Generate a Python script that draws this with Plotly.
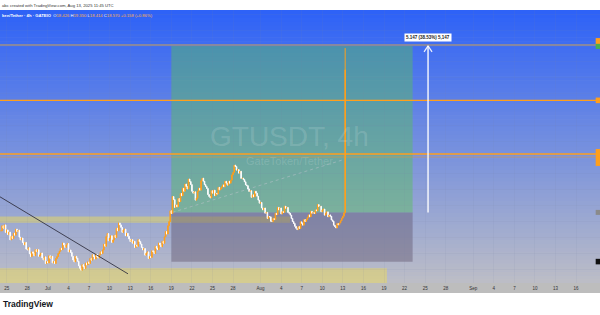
import plotly.graph_objects as go
import pandas as pd

# ---------------- data ----------------
closes = [
    12.78, 12.96, 12.87, 12.99, 12.72, 12.81, 12.64, 12.73, 12.45, 12.58, 12.50, 12.69,
    12.62, 12.84, 12.75, 12.80, 12.55, 12.45, 12.52, 12.36, 12.27, 12.36, 12.12, 12.09,
    12.17, 11.95, 11.85, 12.02, 11.97,
    11.88, 12.10, 12.03, 12.10, 11.86, 11.91, 11.98, 11.80, 11.73, 11.84, 11.60, 11.67,
    11.62, 11.88, 11.79, 11.86, 11.62, 11.67, 11.60, 11.78, 11.85, 11.96, 12.04, 12.15,
    12.10, 12.34, 12.27, 12.18, 12.27,
    12.32, 12.02, 12.09, 12.00, 11.86, 11.73, 11.66, 11.86, 11.79, 11.68, 11.52, 11.43,
    11.36, 11.56, 11.49, 11.42, 11.62, 11.55, 11.66, 11.60, 11.79, 11.72, 11.92, 11.85,
    11.76, 11.94, 11.85, 11.80, 11.91,
    12.02, 11.96, 12.09, 12.30, 12.22, 12.57, 12.68, 12.42, 12.51, 12.60, 12.36, 12.45,
    12.62, 12.54, 12.87, 12.78, 13.06, 12.99, 12.90, 12.72, 12.81, 12.84, 12.60, 12.69,
    12.58, 12.48, 12.39, 12.46, 12.33,
    12.40, 12.18, 12.27, 12.22, 12.46, 12.39, 12.30, 12.18, 12.09, 12.14, 11.90, 11.97,
    12.02, 11.78, 11.85, 11.82, 12.06, 12.03, 11.96, 12.22, 12.15, 12.10, 12.34, 12.27,
    12.20, 12.40, 12.33, 12.56, 12.75,
    12.66, 12.96, 13.11, 13.50, 13.40, 14.01, 13.90, 13.62, 13.71, 13.64, 13.94, 13.83,
    14.12, 14.04, 14.31, 14.20, 14.46, 14.37, 14.28, 14.64, 14.55, 14.44, 14.20, 14.13,
    14.18, 13.88, 13.95, 14.20, 14.31,
    14.24, 14.58, 14.67, 14.56, 14.44, 14.37, 14.30, 14.08, 14.01, 13.96, 14.22, 14.13,
    14.24, 14.04, 14.13, 14.10, 14.34, 14.25, 14.30, 14.36, 14.43, 14.36, 14.56, 14.49,
    14.42, 14.56, 14.49, 14.60, 14.79,
    14.88, 15.14, 15.09, 14.96, 14.98, 14.85, 14.92, 14.66, 14.67, 14.62, 14.54, 14.43,
    14.40, 14.28, 14.19, 14.22, 13.98, 14.07, 14.00, 14.20, 14.13, 14.02, 13.88, 13.77,
    13.80, 13.60, 13.53, 13.60, 13.41,
    13.44, 13.22, 13.29, 13.28, 13.12, 13.11, 13.22, 13.18, 13.41, 13.36, 13.62, 13.53,
    13.60, 13.38, 13.47, 13.44, 13.66, 13.59, 13.62, 13.44, 13.41, 13.34, 13.22, 13.11,
    13.04, 12.94, 12.87, 12.82, 12.93,
    12.86, 13.10, 13.05, 12.98, 13.18, 13.11, 13.18, 13.26, 13.35, 13.28, 13.48, 13.41,
    13.44, 13.40, 13.53, 13.50, 13.72, 13.65, 13.66, 13.46, 13.53, 13.56, 13.34, 13.41,
    13.46, 13.28, 13.35, 13.30, 13.17,
    13.12, 12.98, 12.93, 12.88, 13.04, 12.99, 13.06, 13.14, 13.23, 13.30, 13.426,
    18.570,
]
last_high = 19.35
last_low = 13.414
last_candle_time = "2025-08-13 08:00"

tick_dates = ["2025-06-25", "2025-06-28", "2025-07-01", "2025-07-04", "2025-07-07", "2025-07-10",
              "2025-07-13", "2025-07-16", "2025-07-19", "2025-07-22", "2025-07-25", "2025-07-28",
              "2025-08-01", "2025-08-04", "2025-08-07", "2025-08-10", "2025-08-13", "2025-08-16",
              "2025-08-19", "2025-08-22", "2025-08-25", "2025-08-28", "2025-09-01", "2025-09-04",
              "2025-09-07", "2025-09-10", "2025-09-13", "2025-09-16"]
tick_labels = ["25", "28", "Jul", "4", "7", "10", "13", "16", "19", "22", "25", "28",
               "Aug", "4", "7", "10", "13", "16", "19", "22", "25", "28",
               "Sep", "4", "7", "10", "13", "16"]

x_range = ["2025-06-24 00:29", "2025-09-19 11:33"]
y_range = [10.90, 20.72]

# long position tool
position_start = "2025-07-19 00:00"
position_end = "2025-08-23 04:00"
entry_price = 13.44
target_price = 19.43
stop_price = 11.66
arrow_time = "2025-08-25 10:00"
position_label = "5.147 (38.53%) 5,147"

# drawings
gray_level = 19.46
orange_levels = [17.47, 15.54]
faint_level = 15.43
zone_upper = ("2025-06-20", "2025-08-05 07:00", 13.07, 13.29)
zone_lower = ("2025-06-20", "2025-08-19 10:00", 10.70, 11.43)
trend_line = (("2025-06-24 00:29", 14.00), ("2025-07-12 16:20", 11.23))
connector = (("2025-07-19 04:00", 13.44), ("2025-08-13 00:00", 15.33))

# ---------------- build ----------------
opens = [closes[0]] + closes[:-1]
highs = [max(o, c) for o, c in zip(opens, closes)]
lows = [min(o, c) for o, c in zip(opens, closes)]
highs[-1] = last_high
lows[-1] = last_low
times = pd.date_range(end=last_candle_time, periods=len(closes), freq="4h")

ORANGE = "#FF9F1C"
fig = go.Figure()
fig.add_trace(go.Candlestick(
    x=times, open=opens, high=highs, low=lows, close=closes,
    increasing=dict(line=dict(color=ORANGE, width=1), fillcolor=ORANGE),
    decreasing=dict(line=dict(color="#FFFFFF", width=1), fillcolor="#FFFFFF"),
    whiskerwidth=0, showlegend=False, hoverinfo="skip",
))

shapes = []
# background gradient
top = (46, 98, 247)
bot = (188, 189, 198)
n = 70
for i in range(n):
    t = i / (n - 1)
    col = tuple(round(a + (b - a) * t) for a, b in zip(top, bot))
    shapes.append(dict(type="rect", xref="paper", yref="paper", x0=0, x1=1,
                       y0=1 - (i + 1) / n - 0.002, y1=1 - i / n,
                       fillcolor="rgb(%d,%d,%d)" % col, line_width=0, layer="below"))

# yellow zones
for z in (zone_upper, zone_lower):
    shapes.append(dict(type="rect", xref="x", yref="y", x0=z[0], x1=z[1], y0=z[2], y1=z[3],
                       fillcolor="rgba(242,222,80,0.45)", line_width=0, layer="below"))
# position boxes
shapes.append(dict(type="rect", xref="x", yref="y", x0=position_start, x1=position_end,
                   y0=entry_price, y1=target_price, fillcolor="rgba(88,190,92,0.45)",
                   line_width=0, layer="below"))
shapes.append(dict(type="rect", xref="x", yref="y", x0=position_start, x1=position_end,
                   y0=stop_price, y1=entry_price, fillcolor="rgba(92,80,105,0.42)",
                   line_width=0, layer="below"))
# connector dotted
shapes.append(dict(type="line", xref="x", yref="y", x0=connector[0][0], y0=connector[0][1],
                   x1=connector[1][0], y1=connector[1][1],
                   line=dict(color="rgba(200,200,210,0.45)", width=1, dash="dot"), layer="below"))
# trend line
shapes.append(dict(type="line", xref="x", yref="y", x0=trend_line[0][0], y0=trend_line[0][1],
                   x1=trend_line[1][0], y1=trend_line[1][1],
                   line=dict(color="rgba(45,45,60,0.85)", width=1)))
# horizontal levels
shapes.append(dict(type="line", xref="paper", yref="y", x0=0, x1=1, y0=gray_level, y1=gray_level,
                   line=dict(color="rgba(135,135,160,1)", width=2)))
for lv in orange_levels:
    shapes.append(dict(type="line", xref="paper", yref="y", x0=0, x1=1, y0=lv, y1=lv,
                       line=dict(color=ORANGE, width=1.3)))
shapes.append(dict(type="line", xref="paper", yref="y", x0=0, x1=1, y0=faint_level, y1=faint_level,
                   line=dict(color="rgba(255,159,28,0.45)", width=1)))
# arrow
shapes.append(dict(type="line", xref="x", yref="y", x0=arrow_time, x1=arrow_time,
                   y0=entry_price, y1=target_price, line=dict(color="rgba(255,255,255,0.9)", width=1.5)))
for dx in (-4, 4):
    shapes.append(dict(type="line", xref="x", yref="y", xsizemode="pixel", ysizemode="pixel",
                       xanchor=arrow_time, yanchor=target_price,
                       x0=dx, y0=-6, x1=0, y1=0,
                       line=dict(color="rgba(255,255,255,0.9)", width=1.2)))
# right price-scale labels (cut off by the window)
for lo, hi, c in [(19.50, 19.71, ORANGE), (19.32, 19.50, "#4CAF50"), (17.37, 17.57, ORANGE),
                  (15.11, 15.72, ORANGE), (13.35, 13.53, "#8a8a8a"), (11.57, 11.77, "#111111")]:
    shapes.append(dict(type="rect", xref="paper", yref="y", x0=0.9928, x1=1.0, y0=lo, y1=hi,
                       fillcolor=c, line_width=0))
# time axis strip (drawn below so the tick labels stay visible)
shapes.append(dict(type="rect", xref="paper", yref="paper", x0=0, x1=1, y0=-10 / 273, y1=0,
                   fillcolor="#bdbdbd", line_width=0, layer="below"))

annotations = [
    dict(text="GTUSDT, 4h", xref="paper", yref="paper", x=0.483, y=0.535, showarrow=False,
         font=dict(family="Liberation Sans", size=28, color="rgba(255,255,255,0.15)")),
    dict(text="GateToken/Tether", xref="paper", yref="paper", x=0.483, y=0.447, showarrow=False,
         font=dict(family="Liberation Sans", size=11, color="rgba(255,255,255,0.15)")),
    dict(text="<b>" + position_label + "</b>", xref="x", yref="y", x=arrow_time, y=target_price,
         yshift=8, showarrow=False, bgcolor="white", borderpad=1,
         font=dict(family="Liberation Sans", size=4.5, color="#222")),
    dict(text="abc created with TradingView.com, Aug 13, 2025 11:45 UTC", xref="paper", yref="paper",
         x=0, y=(283 - 5) / 273, xanchor="left", yanchor="middle", showarrow=False,
         font=dict(family="Liberation Sans", size=4.2, color="#333")),
    dict(text=("<b>ken/Tether · 4h · GATEIO</b>  O<span style='color:#FFB347'>18.426</span>"
               " H<span style='color:#FFB347'>19.350</span> L<span style='color:#FFB347'>18.414</span>"
               " C<span style='color:#FFB347'>18.570</span> <span style='color:#FFB347'>+0.158 (+0.86%)</span>"),
         xref="paper", yref="paper", x=0, y=(283 - 15) / 273, xanchor="left", yanchor="middle",
         showarrow=False, font=dict(family="Liberation Sans", size=4.2, color="white")),
    dict(text="<b>TradingView</b>", xref="paper", yref="paper", x=0.002, y=(283 - 304) / 273,
         xanchor="left", yanchor="middle", showarrow=False,
         font=dict(family="Liberation Sans", size=8.5, color="#131722")),
]

fig.update_layout(
    width=600, height=315,
    margin=dict(l=0, r=0, t=10, b=32),
    paper_bgcolor="white", plot_bgcolor="#8fa3e0",
    shapes=shapes, annotations=annotations, showlegend=False,
    xaxis=dict(type="date", range=x_range, rangeslider=dict(visible=False),
               tickvals=tick_dates, ticktext=tick_labels, ticks="",
               tickfont=dict(family="Liberation Sans", size=4.5, color="#333"),
               ticklabelstandoff=1,
               showgrid=True, gridcolor="rgba(120,130,170,0.09)", gridwidth=1,
               zeroline=False, showline=False, fixedrange=True),
    yaxis=dict(range=y_range, showticklabels=False, ticks="",
               tick0=10.8, dtick=0.575, showgrid=True, gridcolor="rgba(120,130,170,0.09)",
               zeroline=False, showline=False, fixedrange=True),
)

fig.write_html("out.html")
